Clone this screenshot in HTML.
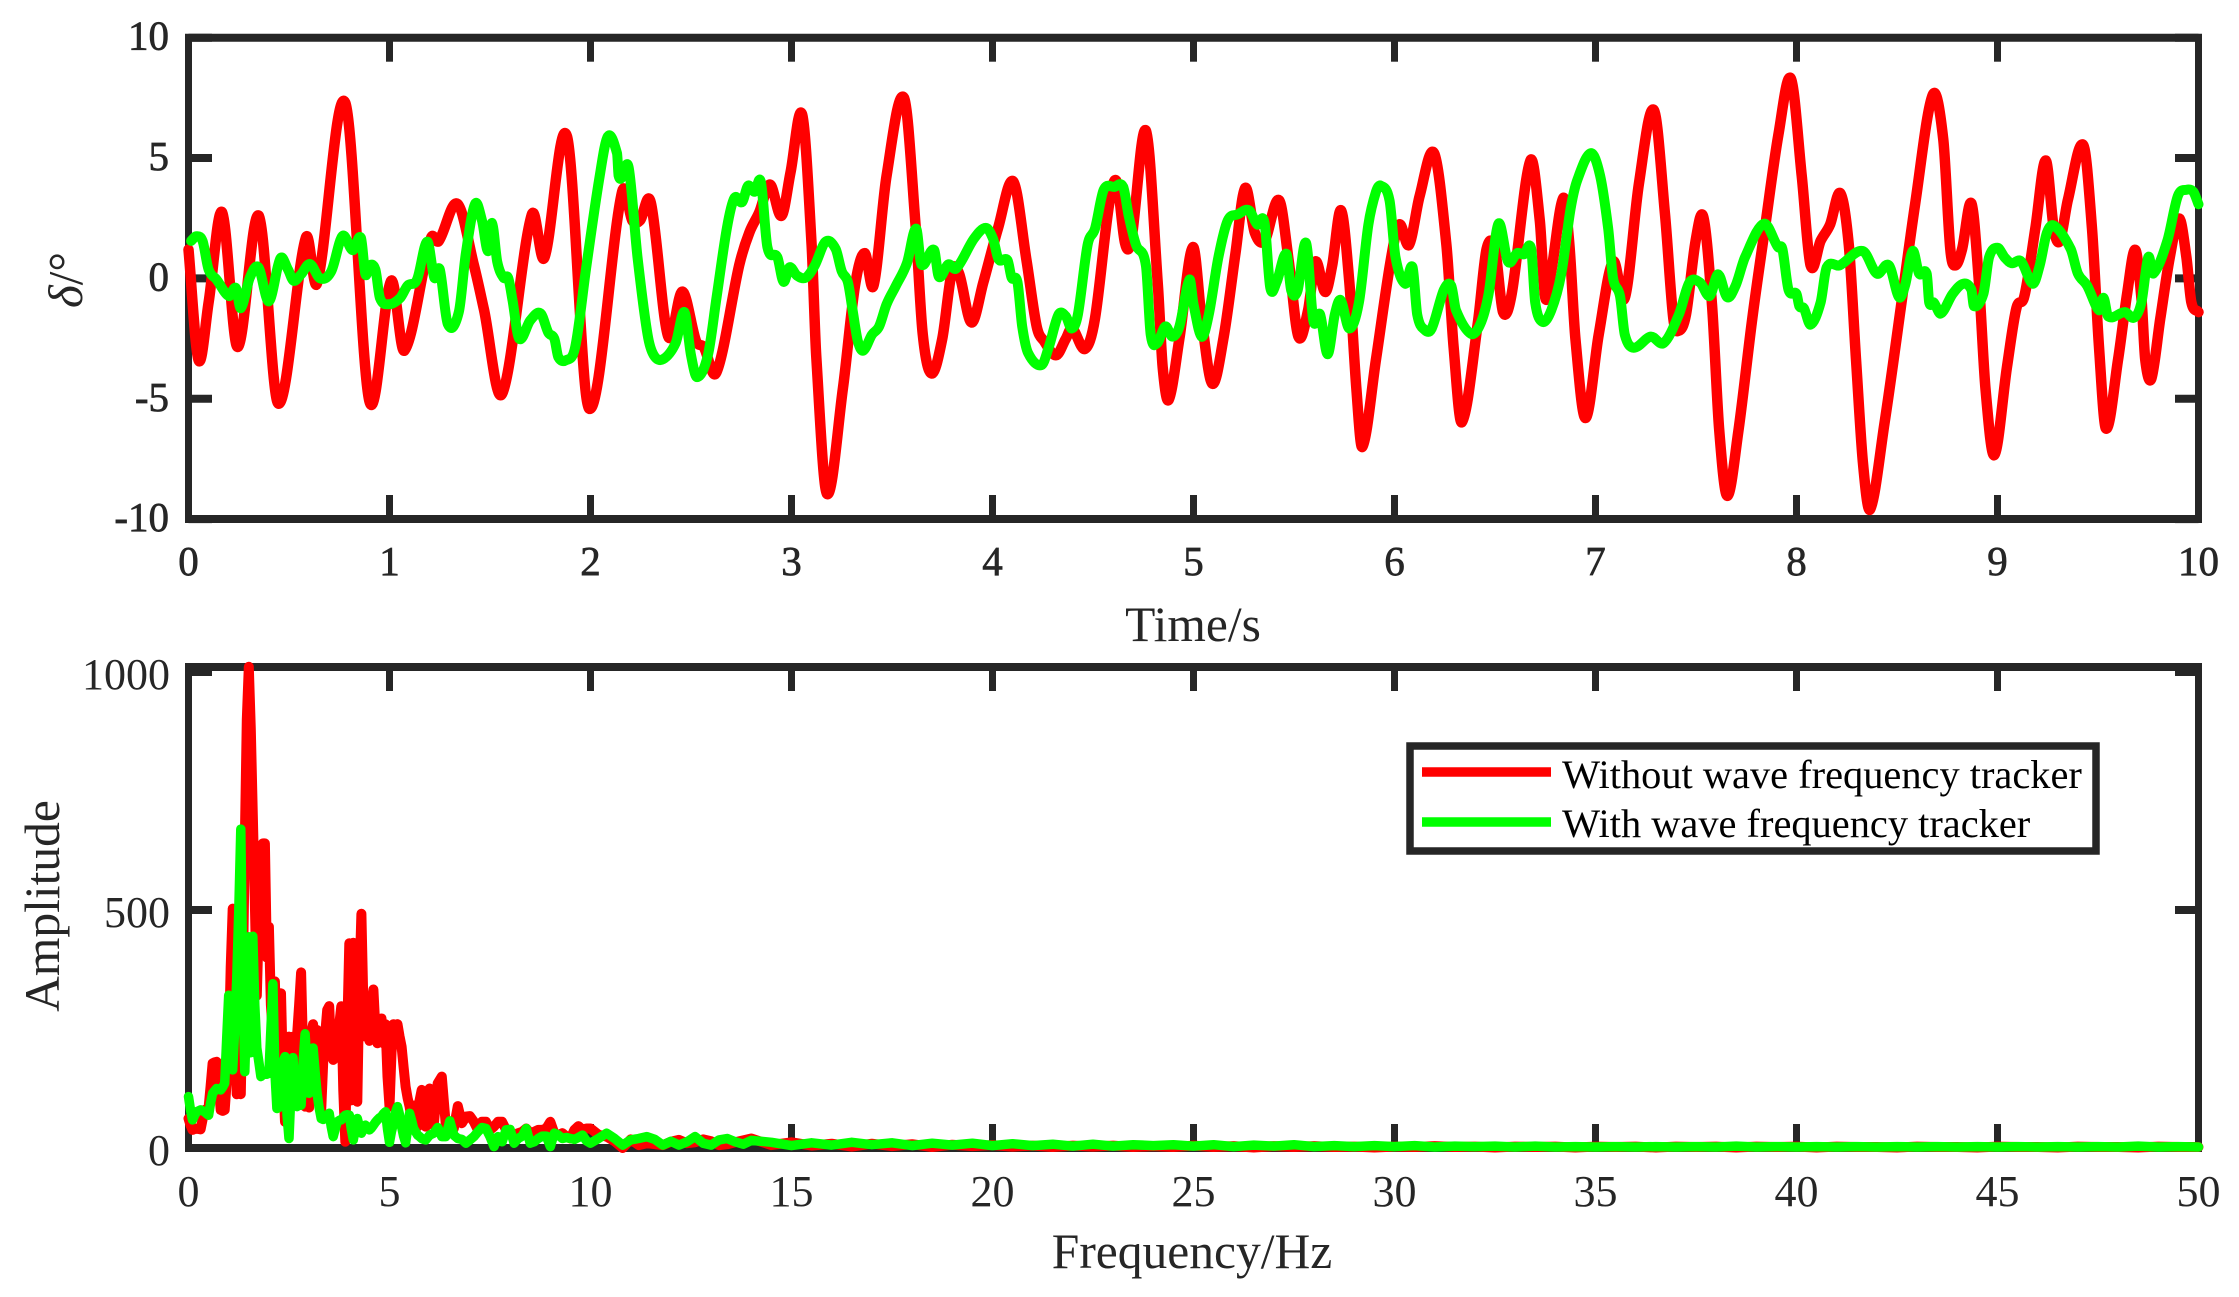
<!DOCTYPE html>
<html lang="en">
<head>
<meta charset="utf-8">
<title>Rudder angle and spectrum with and without wave frequency tracker</title>
<style>
html,body{margin:0;padding:0;background:#fff;}
svg{display:block;}
text{font-family:"Liberation Serif",serif;fill:#262626;}
</style>
</head>
<body>
<svg id="chart" xmlns="http://www.w3.org/2000/svg" width="2239" height="1297" viewBox="0 0 2239 1297">
  <rect x="0" y="0" width="2239" height="1297" fill="#ffffff"/>
  <g id="top-panel"></g>
  <g id="bottom-panel"></g>
  <text transform="translate(82,280) rotate(-90)" text-anchor="middle" font-size="49"><tspan font-style="italic">δ</tspan>/°</text>
  <text x="1193" y="641" text-anchor="middle" font-size="49.5">Time/s</text>
  <text transform="translate(59,906) rotate(-90)" text-anchor="middle" font-size="49.5">Amplitude</text>
  <text x="1192" y="1268" text-anchor="middle" font-size="49.5">Frequency/Hz</text>
  <g>
    <rect x="1410" y="746" width="686" height="105" fill="#ffffff" stroke="#262626" stroke-width="7.5"/>
    <line x1="1422" y1="772" x2="1551" y2="772" stroke="#ff0000" stroke-width="9.5"/>
    <text x="1562" y="788" font-size="40.4" style="fill:#000">Without wave frequency tracker</text>
    <line x1="1422" y1="822" x2="1551" y2="822" stroke="#00ff00" stroke-width="9.5"/>
    <text x="1562" y="837" font-size="40.4" style="fill:#000">With wave frequency tracker</text>
  </g>
</svg>
<script>
/* ---------- Time-domain data ---------- */
const timeTicks = [0,1,2,3,4,5,6,7,8,9,10];
const deltaTicks = [-10,-5,0,5,10];

const redTime = [0,0.05,0.10,0.167,0.244,0.35,0.447,0.584,0.64,0.78,0.90,1.008,1.074,1.205,1.245,1.338,1.42,1.47,1.56,1.708,1.77,1.883,1.992,2.157,2.208,2.246,2.30,2.386,2.457,2.525,2.563,2.627,2.74,2.79,2.84,2.893,2.95,2.995,3.053,3.10,3.123,3.176,3.256,3.316,3.364,3.408,3.473,3.56,3.617,3.653,3.697,3.75,3.798,3.834,3.895,3.955,4.027,4.104,4.17,4.22,4.256,4.317,4.365,4.396,4.46,4.51,4.58,4.618,4.659,4.69,4.763,4.823,4.847,4.876,4.93,4.997,5.04,5.093,5.149,5.209,5.257,5.305,5.353,5.426,5.474,5.522,5.57,5.607,5.655,5.69,5.734,5.775,5.81,5.84,5.908,5.98,6.024,6.072,6.125,6.197,6.258,6.294,6.335,6.415,6.458,6.5,6.54,6.583,6.676,6.723,6.75,6.78,6.84,6.87,6.9,6.95,7.016,7.087,7.146,7.216,7.29,7.345,7.387,7.415,7.45,7.498,7.537,7.58,7.615,7.655,7.71,7.78,7.84,7.91,7.972,8.026,8.07,8.12,8.167,8.218,8.26,8.296,8.33,8.366,8.437,8.52,8.59,8.678,8.73,8.765,8.79,8.824,8.87,8.906,8.94,8.984,9.047,9.094,9.134,9.188,9.24,9.28,9.31,9.35,9.427,9.47,9.505,9.54,9.6,9.645,9.685,9.716,9.735,9.765,9.81,9.857,9.904,9.94,9.964,10];
const redDelta = [1.2,-3.4,-1.0,2.75,-2.85,2.6,-5.2,1.7,-0.2,7.3,-5.1,-0.1,-3.0,1.65,1.55,3.1,0.55,-1.3,-4.8,2.65,0.85,5.9,-5.4,3.6,2.4,2.4,3.15,-2.4,-0.55,-2.6,-2.85,-3.9,0.55,1.9,2.75,3.9,2.6,4.4,6.8,1.4,-3.2,-8.95,-4.54,-0.3,1.05,-0.3,4.27,7.5,2.24,-2.34,-3.95,-2.5,0.29,0.2,-1.83,-0.14,2.07,4.02,0.7,-2.0,-2.6,-3.19,-2.5,-2.08,-2.93,-1.66,3.08,4.02,1.47,1.56,6.14,-0.3,-3.7,-5.05,-2.5,1.3,-1.66,-4.37,-2.5,1.05,3.76,1.9,1.56,3.25,0.7,-2.42,-1.32,0.7,-0.56,0.54,2.83,-0.14,-4.54,-7.0,-3.36,0.7,2.24,1.39,3.42,5.2,1.39,-2.85,-5.98,-1.83,1.22,1.2,-1.4,-0.64,4.9,2.4,-0.81,0.29,3.34,1.39,-2.5,-5.8,-2.34,0.7,-0.81,3.93,7.0,2.75,-1.66,-2.17,-1.5,1.56,2.54,-1.15,-6.24,-9.03,-6.4,-1.66,1.9,5.97,8.3,4.27,0.54,1.56,2.24,3.54,1.39,-3.36,-7.6,-9.6,-6.07,-1.15,3.08,7.63,5.8,1.22,0.54,1.22,3.12,0.03,-4.54,-7.34,-3.7,-1.24,-0.73,2.07,4.9,2.07,1.56,3.25,5.54,2.07,-2.85,-6.24,-3.36,-0.64,1.19,-0.81,-3.36,-4.17,-1.66,0.88,2.49,0.88,-0.98,-1.4];

const greenTime = [0.013,0.04,0.07,0.10,0.14,0.20,0.236,0.26,0.305,0.348,0.40,0.457,0.495,0.523,0.56,0.604,0.655,0.71,0.766,0.817,0.858,0.88,0.90,0.93,0.952,0.997,1.053,1.09,1.137,1.188,1.223,1.25,1.29,1.345,1.38,1.426,1.46,1.49,1.51,1.536,1.567,1.59,1.612,1.645,1.70,1.751,1.79,1.82,1.84,1.878,1.924,1.98,2.043,2.086,2.132,2.14,2.157,2.19,2.234,2.284,2.315,2.36,2.424,2.467,2.5,2.53,2.584,2.627,2.678,2.716,2.754,2.784,2.817,2.848,2.88,2.93,2.96,2.99,3.027,3.07,3.116,3.17,3.22,3.25,3.28,3.304,3.33,3.357,3.4,3.436,3.473,3.52,3.574,3.62,3.646,3.709,3.733,3.78,3.82,3.907,3.967,4.003,4.03,4.075,4.095,4.124,4.148,4.177,4.244,4.28,4.329,4.365,4.394,4.425,4.473,4.51,4.553,4.606,4.65,4.678,4.714,4.763,4.787,4.818,4.86,4.895,4.93,4.98,5.0,5.04,5.076,5.124,5.17,5.22,5.276,5.317,5.353,5.382,5.414,5.462,5.486,5.518,5.56,5.596,5.63,5.667,5.703,5.732,5.775,5.823,5.87,5.908,5.932,5.975,6.005,6.053,6.09,6.113,6.15,6.185,6.246,6.282,6.306,6.38,6.427,6.468,6.517,6.565,6.61,6.644,6.68,6.70,6.735,6.78,6.83,6.876,6.91,6.977,7.023,7.063,7.087,7.122,7.146,7.19,7.275,7.34,7.415,7.467,7.52,7.568,7.61,7.655,7.697,7.744,7.838,7.908,7.93,7.96,8.0,8.014,8.037,8.07,8.12,8.15,8.214,8.33,8.40,8.46,8.51,8.54,8.578,8.61,8.648,8.66,8.683,8.718,8.777,8.83,8.87,8.883,8.93,8.958,9.0,9.035,9.07,9.117,9.176,9.21,9.246,9.282,9.364,9.4,9.446,9.505,9.528,9.55,9.634,9.68,9.716,9.75,9.775,9.845,9.897,9.94,9.974,10];
const greenDelta = [1.56,1.75,1.55,0.37,-0.05,-0.73,-0.4,-1.24,0.03,0.46,-0.95,0.83,0.37,-0.1,0.17,0.6,0,0.29,1.76,1.17,1.68,0.17,0.54,0.37,-0.81,-1.07,-0.81,-0.3,-0.05,1.53,0.03,0.37,-1.9,-1.4,1.05,3.1,2.4,1.13,2.3,0.7,0.03,0.03,-0.9,-2.5,-1.75,-1.45,-2.25,-2.5,-3.27,-3.4,-2.85,0.54,4.1,5.9,5.2,4.27,4.2,4.6,0.88,-2.34,-3.19,-3.36,-2.68,-1.4,-3.19,-4.1,-3.19,-0.81,2.07,3.34,3.17,3.85,3.6,4.0,1.3,0.88,-0.14,0.46,0.12,0.03,0.54,1.53,1.22,0.29,-0.14,-1.32,-2.6,-3.0,-2.34,-2.0,-1.07,-0.3,0.63,2.07,0.58,1.19,0.07,0.58,0.41,1.64,2.1,1.64,0.8,0.75,0.03,-0.14,-2.0,-3.1,-3.6,-2.85,-1.5,-1.58,-2.08,-1.5,1.39,2.07,3.68,3.8,3.8,2.58,1.39,0.54,-2.34,-2.7,-2.0,-2.42,-2.0,-0.05,-1.07,-2.42,-1.5,0.88,2.4,2.66,2.83,2.24,2.32,-0.39,-0.14,1.02,-0.5,-0.5,1.47,-1.75,-1.5,-3.15,-1.5,-0.9,-2.08,-1.0,2.24,3.6,3.85,3.25,0.88,-0.22,0.46,-1.5,-2.14,-2.08,-0.47,-0.3,-1.32,-2.3,-1.9,-0.64,2.27,0.7,1.05,1.0,1.22,-1.0,-1.8,-1.32,0.2,2.9,4.1,5.2,4.27,2.07,0.03,-0.73,-2.34,-2.88,-2.42,-2.68,-1.5,-0.17,-0.17,-0.73,0.17,-0.78,-0.3,0.88,2.27,1.3,1.22,-0.47,-0.64,-1.15,-1.24,-1.92,-1.0,0.46,0.54,1.14,0.2,0.54,-0.78,-0.3,1.14,0.2,0.2,-1.0,-1.0,-1.46,-0.64,-0.22,-0.47,-1.15,-0.64,0.88,1.27,0.88,0.63,0.71,-0.22,0.54,1.9,2.19,1.22,0.2,-0.3,-1.32,-0.81,-1.58,-1.4,-1.63,-1.0,0.88,0.2,1.56,3.42,3.68,3.6,3.08];

/* ---------- Frequency-domain data ---------- */
const freqTicks = [0,5,10,15,20,25,30,35,40,45,50];
const ampTicks = [0,500,1000];

const spectrumFreq = [0,0.05,0.1,0.15,0.2,0.25,0.3,0.35,0.4,0.45,0.5,0.55,0.6,0.65,0.7,0.75,0.8,0.85,0.9,0.95,1,1.05,1.1,1.15,1.2,1.25,1.3,1.35,1.4,1.45,1.5,1.55,1.6,1.65,1.7,1.75,1.8,1.85,1.9,1.95,2,2.05,2.1,2.15,2.2,2.25,2.3,2.35,2.4,2.45,2.5,2.55,2.6,2.65,2.7,2.75,2.8,2.85,2.9,2.95,3,3.05,3.1,3.15,3.2,3.25,3.3,3.35,3.4,3.45,3.5,3.55,3.6,3.65,3.7,3.75,3.8,3.85,3.9,3.95,4,4.05,4.1,4.15,4.2,4.25,4.3,4.35,4.4,4.45,4.5,4.55,4.6,4.65,4.7,4.75,4.8,4.85,4.9,4.95,5,5.05,5.1,5.15,5.2,5.25,5.3,5.35,5.4,5.45,5.5,5.55,5.6,5.65,5.7,5.75,5.8,5.85,5.9,5.95,6,6.1,6.2,6.3,6.4,6.5,6.6,6.7,6.8,6.9,7,7.1,7.2,7.3,7.4,7.5,7.6,7.7,7.8,7.9,8,8.1,8.2,8.3,8.4,8.5,8.6,8.7,8.8,8.9,9,9.1,9.2,9.3,9.4,9.5,9.6,9.7,9.8,9.9,10,10.2,10.4,10.6,10.8,11,11.2,11.4,11.6,11.8,12,12.2,12.4,12.6,12.8,13,13.2,13.4,13.6,13.8,14,14.5,15,15.5,16,16.5,17,17.5,18,18.5,19,19.5,20,20.5,21,21.5,22,22.5,23,23.5,24,24.5,25,25.5,26,26.5,27,27.5,28,28.5,29,29.5,30,30.5,31,31.5,32,32.5,33,33.5,34,34.5,35,35.5,36,36.5,37,37.5,38,38.5,39,39.5,40,40.5,41,41.5,42,42.5,43,43.5,44,44.5,45,45.5,46,46.5,47,47.5,48,48.5,49,49.5,50];
const redAmplitude = [62,48,38,40,41,40,39,60,80,82,85,130,178,180,181,130,80,78,80,140,200,380,503,300,113,200,113,350,640,900,1011,880,700,520,320,480,600,640,640,400,465,300,240,350,190,280,325,150,55,180,234,120,234,130,234,300,369,200,87,100,85,240,260,120,248,150,80,180,240,290,298,200,185,240,190,260,298,120,13,250,430,100,431,120,97,350,492,300,234,300,225,300,333,250,220,260,272,220,260,150,87,200,260,250,260,235,213,170,129,105,87,60,38,90,45,100,122,60,45,100,125,48,136,150,48,38,41,88,52,66,67,55,38,55,55,38,45,55,55,38,31,27,31,34,41,31,34,38,38,41,55,31,27,31,24,20,38,46,38,41,41,28,24,14,0,18,6,10,8,6,13,17,10,12,18,14,6,8,12,16,20,6,12,5,9,3,9,4,8,2,7,4,6,3,5,2,5,3,5,2,4,2,5,2,4,1,4,2,4,2,3,1,3,2,4,2,3,1,3,2,3,1,3,2,3,1,3,2,3,1,3,2,3,1,3,2,2,1,3,2,2,1,3,2,2,1,3,2,2,1,3,2,2];
const greenAmplitude = [108,80,59,68,76,78,80,78,76,72,69,95,115,120,125,124,122,128,136,230,321,170,164,250,353,500,670,350,160,300,444,200,445,300,210,180,150,155,155,155,157,250,345,160,83,85,90,180,192,70,20,120,190,110,87,90,90,180,240,170,115,170,210,160,115,85,62,60,62,68,73,45,24,40,55,58,59,65,69,70,69,40,17,40,62,45,31,40,48,44,38,42,48,54,59,63,66,72,76,40,12,35,52,75,87,70,45,25,11,40,73,58,41,34,27,24,20,18,17,22,27,31,43,24,24,57,27,20,18,10,17,24,34,43,41,24,3,24,13,38,39,10,20,25,41,10,13,20,25,25,3,31,27,20,22,20,18,22,27,15,10,20,31,20,6,17,20,24,18,6,14,6,13,24,10,6,17,20,13,8,16,12,5,11,6,12,7,11,5,10,6,10,5,9,5,8,4,8,4,7,5,7,4,7,3,6,4,7,3,5,3,5,3,5,2,4,3,4,2,4,2,3,2,3,2,3,2,3,2,4,2,3,2,3,2,3,2,3,2,3,2,3,2,3,2,3,2,3,2,4,2,3,2];

/* ---------- Axis functions ---------- */
const axisLeft = 188.5, axisRight = 2198.5;
const xTime = t => axisLeft + (t / 10) * (axisRight - axisLeft);
const yDelta = v => 278.4 - v * 24.07;
const xFreq = f => axisLeft + (f / 50) * (axisRight - axisLeft);
const yAmp = a => 1148 - a * 0.476;

const NS = 'http://www.w3.org/2000/svg';
const INK = '#262626';

function make(parent, tag, attrs) {
  const el = document.createElementNS(NS, tag);
  for (const k in attrs) el.setAttribute(k, attrs[k]);
  parent.appendChild(el);
  return el;
}

function smoothPath(pts) {
  let d = 'M' + pts[0][0].toFixed(1) + ' ' + pts[0][1].toFixed(1);
  const slope = i => {
    const a = pts[Math.max(i - 1, 0)], b = pts[Math.min(i + 1, pts.length - 1)];
    return (b[1] - a[1]) / (b[0] - a[0]);
  };
  for (let i = 0; i < pts.length - 1; i++) {
    const h = pts[i + 1][0] - pts[i][0];
    const c1x = pts[i][0] + h / 3, c1y = pts[i][1] + slope(i) * h / 3;
    const c2x = pts[i + 1][0] - h / 3, c2y = pts[i + 1][1] - slope(i + 1) * h / 3;
    d += 'C' + c1x.toFixed(1) + ' ' + c1y.toFixed(1) + ' ' + c2x.toFixed(1) + ' ' + c2y.toFixed(1) + ' ' + pts[i + 1][0].toFixed(1) + ' ' + pts[i + 1][1].toFixed(1);
  }
  return d;
}

function linePath(pts) {
  return pts.map((p, i) => (i ? 'L' : 'M') + p[0].toFixed(1) + ' ' + p[1].toFixed(1)).join('');
}

function drawFrame(g, topY, bottomY) {
  const hw = 8, vw = 7;
  const top = make(g, 'line', {x1: axisLeft - vw / 2, x2: axisRight + vw / 2, y1: topY, y2: topY, stroke: INK, 'stroke-width': hw});
  
  
  const bottom = make(g, 'line', {x1: axisLeft - vw / 2, x2: axisRight + vw / 2, y1: bottomY, y2: bottomY, stroke: INK, 'stroke-width': hw});
  
  
  const left = make(g, 'line', {x1: axisLeft, x2: axisLeft, y1: topY, y2: bottomY, stroke: INK, 'stroke-width': vw});
  
  
  const right = make(g, 'line', {x1: axisRight, x2: axisRight, y1: topY, y2: bottomY, stroke: INK, 'stroke-width': vw});
  
  
}

function drawXTicks(g, ticks, scale, topY, bottomY, baseline, fontSize, heavy) {
  ticks.forEach(v => {
    const x = scale(v);
    const t1 = make(g, 'line', {x1: x, x2: x, y1: topY, y2: topY + 24, stroke: INK, 'stroke-width': 7});
    
    
    const t2 = make(g, 'line', {x1: x, x2: x, y1: bottomY, y2: bottomY - 24, stroke: INK, 'stroke-width': 7});
    
    
    const label = make(g, 'text', {x: x, y: baseline, 'text-anchor': 'middle', 'font-size': fontSize, stroke: INK, 'stroke-width': heavy});
    
    
    label.textContent = String(v);
  });
}

function drawYTicks(g, ticks, scale, labelRight, labelOffset, fontSize, heavy) {
  ticks.forEach(v => {
    const y = scale(v);
    const t1 = make(g, 'line', {x1: axisLeft, x2: axisLeft + 23.5, y1: y, y2: y, stroke: INK, 'stroke-width': 8});
    
    
    const t2 = make(g, 'line', {x1: axisRight, x2: axisRight - 23.5, y1: y, y2: y, stroke: INK, 'stroke-width': 8});
    
    
    const label = make(g, 'text', {x: labelRight, y: y + labelOffset, 'text-anchor': 'end', 'font-size': fontSize, stroke: INK, 'stroke-width': heavy});
    
    
    label.textContent = String(v);
  });
}

function drawSeries(g, d, color, width) {
  return make(g, 'path', {d: d, fill: 'none', stroke: color, 'stroke-width': width, 'stroke-linejoin': 'round', 'stroke-linecap': 'round'});
}

/* ---------- Top panel ---------- */
const topPanel = document.getElementById('top-panel');
drawFrame(topPanel, 37.7, 519);
drawXTicks(topPanel, timeTicks, xTime, 37.7, 519, 575, 41, 0.7);
drawYTicks(topPanel, deltaTicks, yDelta, 169, 12, 41, 0.7);
const redWave = drawSeries(topPanel, smoothPath(redTime.map((t, i) => [xTime(t), yDelta(redDelta[i])])), '#ff0000', 10.5);


const greenWave = drawSeries(topPanel, smoothPath(greenTime.map((t, i) => [xTime(t), yDelta(greenDelta[i])])), '#00ff00', 10);



/* ---------- Bottom panel ---------- */
const bottomPanel = document.getElementById('bottom-panel');
drawFrame(bottomPanel, 667, 1148);
drawXTicks(bottomPanel, freqTicks, xFreq, 667, 1148, 1206, 44, 0);
drawYTicks(bottomPanel, ampTicks, yAmp, 170, 17, 44, 0);
const redSpectrum = drawSeries(bottomPanel, linePath(spectrumFreq.map((f, i) => [xFreq(f), yAmp(redAmplitude[i])])), '#ff0000', 10);


const greenSpectrum = drawSeries(bottomPanel, linePath(spectrumFreq.map((f, i) => [xFreq(f), yAmp(greenAmplitude[i])])), '#00ff00', 9.5);


</script>
</body>
</html>
